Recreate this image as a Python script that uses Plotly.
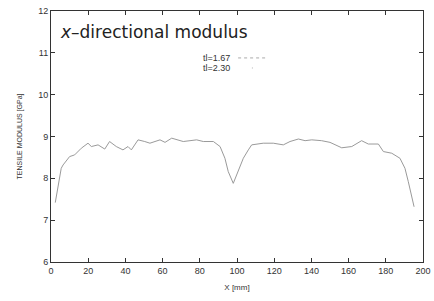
import plotly.graph_objects as go

x_mm = [2.3, 5.5, 6.5, 10, 12.7, 16.3, 19.9, 21.7, 25.3, 28.9, 31.5, 35.1, 38.7, 41.4, 43.2, 46.8,
        50.4, 53.2, 58.6, 61.3, 64.9, 71.1, 78.3, 81.9, 87.3, 90.9, 93.5, 95.3, 98.0, 100.7,
        103.4, 106.1, 107.9, 114.1, 119.5, 124.9, 128.5, 133.0, 136.6, 140.2, 145.5, 150.0,
        156.3, 161.7, 164.4, 167.0, 170.6, 176.0, 178.7, 183.2, 187.6, 190.3, 192.1, 193.9, 195.2]
modulus = [7.42, 8.24, 8.32, 8.52, 8.56, 8.72, 8.84, 8.76, 8.80, 8.70, 8.88, 8.76, 8.68, 8.76, 8.68, 8.92,
           8.88, 8.84, 8.92, 8.86, 8.96, 8.88, 8.92, 8.88, 8.88, 8.76, 8.48, 8.16, 7.88, 8.16,
           8.48, 8.68, 8.80, 8.84, 8.84, 8.80, 8.88, 8.94, 8.90, 8.92, 8.90, 8.86,
           8.73, 8.76, 8.84, 8.90, 8.82, 8.82, 8.64, 8.60, 8.48, 8.24, 7.92, 7.60, 7.32]
series_names = ["tl=1.67", "tl=2.30"]
x_ticks = [0, 20, 40, 60, 80, 100, 120, 140, 160, 180, 200]
y_ticks = [6, 7, 8, 9, 10, 11, 12]

fig = go.Figure()
fig.add_trace(go.Scatter(x=x_mm, y=modulus, mode="lines", name=series_names[0],
                         line=dict(color="#9a9a9a", width=1), showlegend=False))

axis_common = dict(showgrid=False, zeroline=False, showline=True, linecolor="#333",
                   linewidth=1, mirror="allticks", ticks="inside", ticklen=4,
                   tickcolor="#333", automargin=False,
                   tickfont=dict(family="Liberation Sans", size=9, color="#333"))
fig.update_xaxes(range=[0, 200], tickvals=x_ticks, **axis_common,
                 title=dict(text="X [mm]", font=dict(family="Liberation Sans", size=8, color="#333"),
                            standoff=9))
fig.update_yaxes(range=[6, 12], tickvals=y_ticks, **axis_common,
                 title=dict(text="TENSILE MODULUS [GPa]",
                            font=dict(family="Liberation Sans", size=7, color="#333"), standoff=14))

fig.add_annotation(x=0.018, y=0.965, xref="paper", yref="paper", xanchor="left", yanchor="top",
                   text="<i>x</i>–directional modulus", showarrow=False,
                   font=dict(family="DejaVu Sans", size=17, color="#222"))
# legend (text then sample, gnuplot style)
for i, name in enumerate(series_names):
    yy = 0.813 - i * 0.04
    fig.add_annotation(x=0.487, y=yy, xref="paper", yref="paper", xanchor="right", yanchor="middle",
                       text=name, showarrow=False,
                       font=dict(family="Liberation Sans", size=9, color="#333"))
fig.add_shape(type="line", xref="paper", yref="paper", x0=0.503, x1=0.583, y0=0.813, y1=0.813,
              line=dict(color="#aaa", width=1, dash="dot"))
fig.add_shape(type="line", xref="paper", yref="paper", x0=0.54, x1=0.543, y0=0.773, y1=0.773,
              line=dict(color="#bbb", width=1))

fig.update_layout(width=434, height=301, margin=dict(l=51, r=11, t=11, b=39),
                  plot_bgcolor="white", paper_bgcolor="white")
fig.write_html("out.html", config={"displayModeBar": False},
               post_script="document.body.style.margin='0';")
